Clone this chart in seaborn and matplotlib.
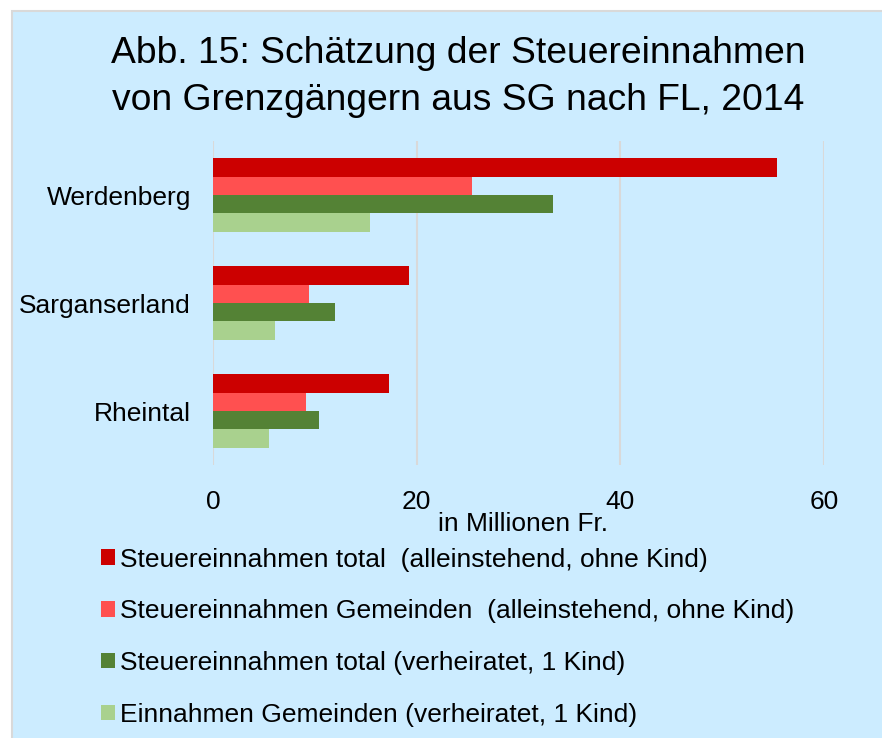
import pandas as pd
import matplotlib.pyplot as plt
import seaborn as sns
from matplotlib.patches import Rectangle, Patch

# Daten (in Millionen Fr.)
regionen = ['Werdenberg', 'Sarganserland', 'Rheintal']
serien = [
    'Steuereinnahmen total  (alleinstehend, ohne Kind)',
    'Steuereinnahmen Gemeinden  (alleinstehend, ohne Kind)',
    'Steuereinnahmen total (verheiratet, 1 Kind)',
    'Einnahmen Gemeinden (verheiratet, 1 Kind)',
]
total_allein = [55.4, 19.2, 17.3]
gemeinden_allein = [25.4, 9.4, 9.1]
total_verh = [33.4, 12.0, 10.4]
gemeinden_verh = [15.4, 6.1, 5.5]
farben = ['#CC0000', '#FF5050', '#548235', '#A9D18E']

werte = [total_allein, gemeinden_allein, total_verh, gemeinden_verh]
rows = []
for s, vals in zip(serien, werte):
    for r, v in zip(regionen, vals):
        rows.append({'Region': r, 'Serie': s, 'Wert': v})
df = pd.DataFrame(rows)

sns.set_style('white')
plt.rcParams['font.family'] = ['Liberation Sans', 'DejaVu Sans']
plt.rcParams['text.color'] = 'black'
plt.rcParams['xtick.color'] = 'black'
plt.rcParams['ytick.color'] = 'black'
plt.rcParams['axes.labelcolor'] = 'black'

bg = '#CCECFF'
fig = plt.figure(figsize=(8.82, 7.38), dpi=100, facecolor='white')
# Hintergrundrahmen
fig.patches.append(Rectangle((12 / 882, -0.05), 1.05, 1 - 11 / 738 + 0.05,
                             transform=fig.transFigure, facecolor=bg,
                             edgecolor='#D9D9D9', linewidth=1.5, zorder=-5))

ax = fig.add_axes([213 / 882, 1 - 465 / 738, 611 / 882, 324 / 738])
ax.set_facecolor(bg)
ax.patch.set_alpha(0)

sns.barplot(data=df, y='Region', x='Wert', hue='Serie', order=regionen,
            hue_order=serien, palette=farben, orient='h', width=0.685,
            gap=0, saturation=1, ax=ax, legend=False, zorder=3, linewidth=0)

ax.set_xlim(0, 60)
ax.set_xticks([0, 20, 40, 60])
ax.grid(axis='x', color='#D9D9D9', linewidth=1.5, zorder=0)
ax.grid(axis='y', visible=False)
ax.set_axisbelow(True)
for sp in ax.spines.values():
    sp.set_visible(False)
ax.tick_params(axis='both', length=0, labelsize=19)
ax.tick_params(axis='y', pad=16)
ax.tick_params(axis='x', pad=18)
ax.set_ylabel('')
ax.set_xlabel('in Millionen Fr.', fontsize=19, labelpad=-2)
ax.xaxis.set_label_coords(0.508, -0.145)

fig.text(0.519, 1 - 77 / 738,
         'Abb. 15: Schätzung der Steuereinnahmen\nvon Grenzgängern aus SG nach FL, 2014',
         ha='center', va='center', fontsize=26.8, linespacing=1.45)

handles = [Patch(facecolor=c, label=s, linewidth=0) for c, s in zip(farben, serien)]
fig.legend(handles=handles, loc='upper left', bbox_to_anchor=(90 / 882, 1 - 537 / 738),
           frameon=False, fontsize=19, handlelength=0.53, handleheight=0.53,
           handletextpad=0.2, labelspacing=1.05, borderaxespad=0)

fig.savefig('out.png', dpi=100, facecolor='white')
